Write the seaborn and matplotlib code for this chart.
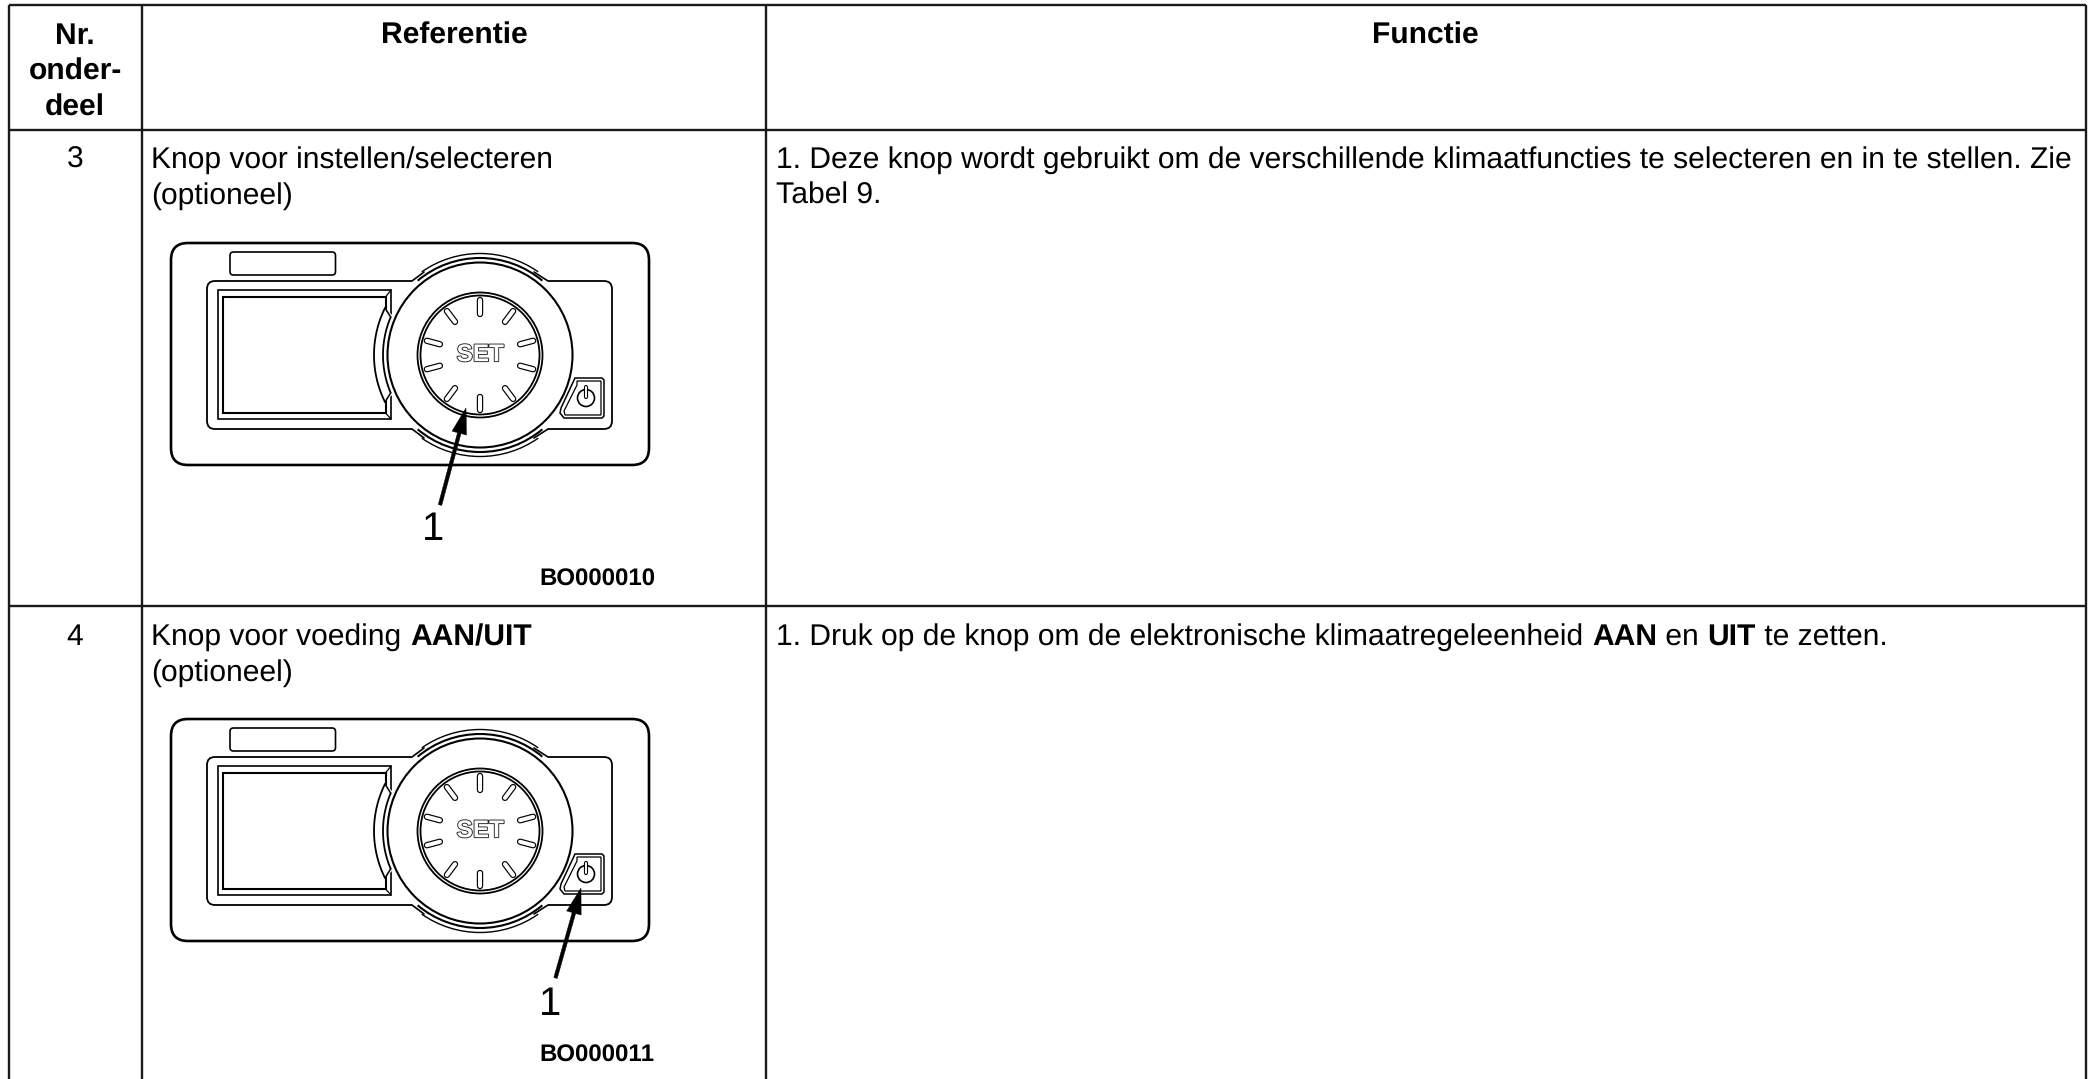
import matplotlib
matplotlib.use("Agg")
import numpy as np
import matplotlib.pyplot as plt
import matplotlib.patheffects as pe
import seaborn as sns
from matplotlib.patches import FancyBboxPatch, Circle, Polygon, Arc, FancyArrow

sns.set_theme(style="white")
plt.rcParams['font.family'] = ['Liberation Sans', 'DejaVu Sans']
plt.rcParams['text.hinting'] = 'none'
plt.rcParams['text.hinting_factor'] = 1

# ---------- table content ----------
col_lines = [9, 142, 766, 2086]
row_lines = [5, 130, 606]
header_nr = ["Nr.", "onder-", "deel"]
header_cols = ["Referentie", "Functie"]
row_numbers = ["3", "4"]
row_ref_1 = [[("Knop voor instellen/selecteren", False)], [("(optioneel)", False)]]
row_ref_2 = [[("Knop voor voeding ", False), ("AAN/UIT", True)], [("(optioneel)", False)]]
row_fun_1 = [[("1. Deze knop wordt gebruikt om de verschillende klimaatfuncties te selecteren en in te stellen. Zie", False)],
             [("Tabel 9.", False)]]
row_fun_2 = [[("1. Druk op de knop om de elektronische klimaatregeleenheid ", False), ("AAN", True),
              (" en ", False), ("UIT", True), (" te zetten.", False)]]
figure_codes = ["BO000010", "BO000011"]
callout = "1"
tick_angles = [90, 53, 15, -15, -53, -90, -127, -165, 165, 127]

W, H = 2096, 1079
fig = plt.figure(figsize=(W / 100, H / 100), dpi=100, facecolor="white")
ax = fig.add_axes([0, 0, 1, 1])
ax.set_xlim(0, W)
ax.set_ylim(H, 0)
ax.axis("off")
sns.despine(ax=ax, left=True, bottom=True)

FS = 21.8
K = "#000000"
TL = "#1a1a1a"

# grid
for x in col_lines:
    ax.plot([x, x], [row_lines[0], H], color=TL, lw=1.7, solid_capstyle="butt")
for y in row_lines:
    ax.plot([col_lines[0], col_lines[-1]], [y, y], color=TL, lw=1.7, solid_capstyle="butt")


def runs(x, y, parts):
    r = fig.canvas.get_renderer()
    for s, bold in parts:
        t = ax.text(x, y, s, fontsize=FS, color=K, va="baseline", ha="left",
                    fontweight="bold" if bold else "normal")
        w = r.get_text_width_height_descent(s.replace(" ", "n"), t.get_fontproperties(), False)[0]
        sp = r.get_text_width_height_descent("n", t.get_fontproperties(), False)[0]
        sp2 = FS * 100 / 72 * 0.278
        w += s.count(" ") * (sp2 - sp)
        x += w


def rrect(x0, y0, x1, y1, r, lw=1.6, z=2, fc="none"):
    ax.add_patch(FancyBboxPatch((x0 + r, y0 + r), x1 - x0 - 2 * r, y1 - y0 - 2 * r,
                                boxstyle=f"round,pad={r},rounding_size={r}",
                                fc=fc, ec=K, lw=lw, zorder=z))


def panel(dy, arrow, label_x, label_y, power_thick):
    cx, cy = 480, 355 + dy
    rrect(171, 243 + dy, 649, 465 + dy, 17, lw=1.9)
    rrect(230, 252 + dy, 335.5, 275 + dy, 3.5, lw=1.2)
    rrect(207, 281 + dy, 612, 429 + dy, 8, lw=1.3)
    # mask plate behind knob, with flared joints
    ax.add_patch(Polygon([(412, 278 + dy), (548, 278 + dy), (548, 284 + dy), (412, 284 + dy)],
                         fc="white", ec="none", zorder=3))
    ax.add_patch(Polygon([(412, 426 + dy), (548, 426 + dy), (548, 432 + dy), (412, 432 + dy)],
                         fc="white", ec="none", zorder=3))
    ax.plot([412, 424], [281 + dy, 272 + dy], color=K, lw=1.2, zorder=4)
    ax.plot([548, 534], [281 + dy, 272 + dy], color=K, lw=1.2, zorder=4)
    ax.plot([412, 424], [429 + dy, 438 + dy], color=K, lw=1.2, zorder=4)
    ax.plot([548, 534], [429 + dy, 438 + dy], color=K, lw=1.2, zorder=4)
    for r, ww, a0, a1 in [(101.5, 1.0, 55, 125), (97, 1.5, 50, 130)]:
        ax.add_patch(Arc((cx, cy), 2 * r, 2 * r, theta1=a0, theta2=a1, ec=K, lw=ww, zorder=3))
        ax.add_patch(Arc((cx, cy), 2 * r, 2 * r, theta1=a0 + 180, theta2=a1 + 180, ec=K, lw=ww, zorder=3))
    # screen
    ax.add_patch(Polygon([(217.5, 290 + dy), (391, 290 + dy), (391, 419 + dy), (217.5, 419 + dy)],
                         closed=True, fc="white", ec=K, lw=1.2, zorder=2))
    ax.add_patch(Polygon([(223, 297 + dy), (385.5, 297 + dy), (385.5, 413 + dy), (223, 413 + dy)],
                         closed=True, fc="white", ec=K, lw=1.5, zorder=2))
    ax.plot([385.5, 391], [297 + dy, 290 + dy], color=K, lw=0.9, zorder=2)
    ax.plot([385.5, 391], [413 + dy, 419 + dy], color=K, lw=0.9, zorder=2)
    # curved band of the knob cutting into the screen
    a_out = np.arccos(95 / 106)
    a_in = np.arccos(89.3 / 97)
    ang_o = np.linspace(np.pi - a_out, np.pi + a_out, 50)
    ang_i = np.linspace(np.pi - a_in, np.pi + a_in, 50)
    outer = np.column_stack([cx + 106 * np.cos(ang_o), cy - 106 * np.sin(ang_o)])
    inner = np.column_stack([cx + 97 * np.cos(ang_i), cy - 97 * np.sin(ang_i)])
    ax.add_patch(Polygon(np.vstack([outer, [(394, cy + 38), (394, cy - 38)]]), closed=True,
                         fc="white", ec="none", zorder=3))
    ax.plot(outer[:, 0], outer[:, 1], color=K, lw=1.3, zorder=4)
    ax.plot(inner[:, 0], inner[:, 1], color=K, lw=1.3, zorder=4)
    ax.plot([outer[0, 0], inner[0, 0]], [outer[0, 1], inner[0, 1]], color=K, lw=1.1, zorder=4)
    ax.plot([outer[-1, 0], inner[-1, 0]], [outer[-1, 1], inner[-1, 1]], color=K, lw=1.1, zorder=4)
    # knob
    ax.add_patch(Circle((cx, cy), 92.5, fc="white", ec=K, lw=1.5, zorder=5))
    ax.add_patch(Circle((cx, cy), 62.5, fc="white", ec=K, lw=1.3, zorder=5))
    ax.add_patch(Circle((cx, cy), 59.5, fc="white", ec=K, lw=1.3, zorder=5))
    for a in tick_angles:
        c, s = np.cos(np.radians(a)), np.sin(np.radians(a))
        xs = [cx + 41.5 * c, cx + 55 * c]
        ys = [cy - 41.5 * s, cy - 55 * s]
        ax.plot(xs, ys, color=K, lw=4.6, solid_capstyle="round", zorder=6)
        ax.plot(xs, ys, color="white", lw=2.9, solid_capstyle="round", zorder=7)
    ax.text(cx, cy, "SET", fontsize=17.5, fontweight="bold", ha="center", va="center",
            color="white", zorder=7,
            path_effects=[pe.withStroke(linewidth=1.3, foreground="#222222")])
    # power button
    ax.add_patch(Polygon([(575, 378 + dy), (602, 378 + dy), (604, 380 + dy), (604, 416 + dy), (602, 418 + dy),
                          (564, 418 + dy), (560, 413 + dy), (561, 408 + dy)],
                         closed=True, fc="white", ec=K, lw=1.1, zorder=3))
    ax.add_patch(Polygon([(577, 381 + dy), (601, 381 + dy), (601, 415 + dy), (565, 415 + dy),
                          (564, 411 + dy), (577, 385 + dy)], closed=True, fc="none", ec=K,
                         lw=power_thick, zorder=3))
    ax.add_patch(Circle((586, 398 + dy), 8.5, fc="white", ec=K, lw=1.2, zorder=4))
    ax.plot([586, 586], [387 + dy, 397 + dy], color=K, lw=3.0, solid_capstyle="round", zorder=5)
    ax.plot([586, 586], [387 + dy, 397 + dy], color="white", lw=1.4, solid_capstyle="round", zorder=6)
    # arrow
    x0, y0, x1, y1 = arrow
    ax.add_patch(FancyArrow(x0, y0, x1 - x0, y1 - y0, width=3.6, head_width=15, head_length=26,
                            length_includes_head=True, fc=K, ec=K, lw=0.3, zorder=8))
    ax.text(label_x, label_y, callout, fontsize=29, color=K, ha="center", va="baseline", zorder=8)


# text
for s, y in zip(header_nr, [44, 80, 116]):
    ax.text(75, y, s, fontsize=FS, fontweight="bold", color=K, ha="center", va="baseline")
ax.text(454, 44, header_cols[0], fontsize=FS, fontweight="bold", color=K, ha="center", va="baseline")
ax.text(1425, 44, header_cols[1], fontsize=FS, fontweight="bold", color=K, ha="center", va="baseline")

rows = [(168, row_numbers[0], row_ref_1, row_fun_1), (645, row_numbers[1], row_ref_2, row_fun_2)]
for y, n, ref, fun in rows:
    ax.text(75, y, n, fontsize=FS, color=K, ha="center", va="baseline")
    for i, parts in enumerate(ref):
        runs(151, y + 36 * i, parts)
    for i, parts in enumerate(fun):
        runs(776, y + 36 * i, parts)

panel(0, (440, 505, 466, 408), 433, 540, 0.9)
panel(476, (555.5, 978, 581, 888), 550, 1015, 0.9)
ax.text(655, 586, figure_codes[0], fontsize=17, fontweight="bold", color=K, ha="right", va="baseline")
ax.text(654, 1062, figure_codes[1], fontsize=17, fontweight="bold", color=K, ha="right", va="baseline")

fig.savefig("out.png", dpi=100, facecolor="white")
